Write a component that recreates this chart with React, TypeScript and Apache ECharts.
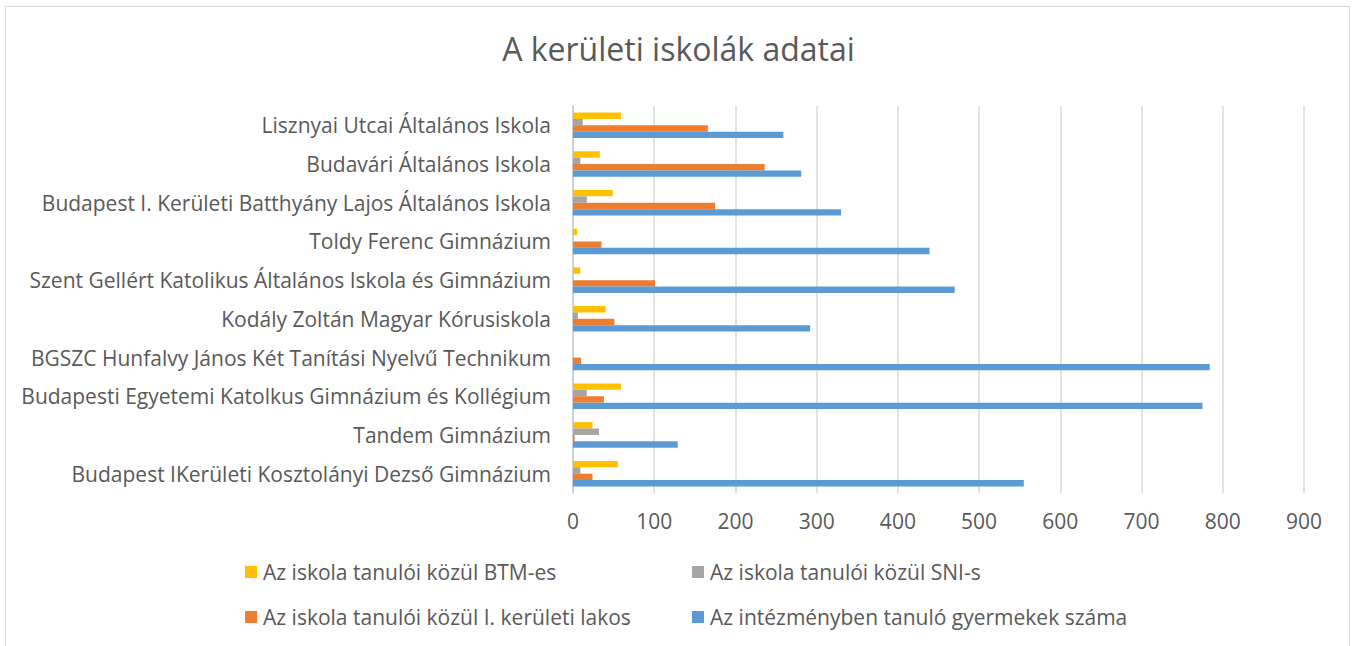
import React, { useEffect, useRef } from "react";
import * as echarts from "echarts";

const categories = [
  "Budapest IKerületi Kosztolányi Dezső Gimnázium",
  "Tandem Gimnázium",
  "Budapesti Egyetemi Katolkus Gimnázium és Kollégium",
  "BGSZC Hunfalvy János Két Tanítási Nyelvű Technikum",
  "Kodály Zoltán Magyar Kórusiskola",
  "Szent Gellért Katolikus Általános Iskola és Gimnázium",
  "Toldy Ferenc Gimnázium",
  "Budapest I. Kerületi Batthyány Lajos Általános Iskola",
  "Budavári Általános Iskola",
  "Lisznyai Utcai Általános Iskola",
];

const seriesNames = [
  "Az iskola tanulói közül BTM-es",
  "Az iskola tanulói közül SNI-s",
  "Az iskola tanulói közül I. kerületi lakos",
  "Az intézményben tanuló gyermekek száma",
];

const btmValues = [55, 24, 59, 0, 40, 9, 5, 49, 33, 59];
const sniValues = [9, 32, 17, 0, 6, 0, 0, 17, 9, 12];
const lakosValues = [24, 2, 38, 10, 51, 101, 35, 175, 236, 166];
const totalValues = [555, 129, 775, 784, 292, 470, 439, 330, 281, 259];

const xTicks = { min: 0, max: 900, interval: 100 };

const colors = ["#FFC000", "#A5A5A5", "#ED7D31", "#5B9BD5"];
const FONT = "Open Sans";
const TEXT = "#595959";

export default function App() {
  const ref = useRef<HTMLDivElement>(null);
  useEffect(() => {
    if (!ref.current) return;
    const chart = echarts.init(ref.current, null, { renderer: "svg" });
    const values = [btmValues, sniValues, lakosValues, totalValues];
    const legendPos = [
      { left: 245, top: 560 },
      { left: 692, top: 560 },
      { left: 245, top: 605 },
      { left: 692, top: 605 },
    ];
    chart.setOption({
      animation: false,
      backgroundColor: "#ffffff",
      textStyle: { fontFamily: FONT },
      title: {
        text: "A kerületi iskolák adatai",
        left: "center",
        top: 27,
        textStyle: { fontFamily: FONT, fontSize: 32, fontWeight: "normal", color: TEXT },
      },
      graphic: [
        {
          type: "rect",
          shape: { x: 5.5, y: 6.5, width: 1344, height: 700 },
          style: { fill: "none", stroke: "#d9d9d9", lineWidth: 1 },
          silent: true,
        },
      ],
      legend: legendPos.map((p, i) => ({
        data: [seriesNames[i]],
        left: p.left,
        top: p.top,
        padding: 0,
        icon: "rect",
        itemWidth: 12,
        itemHeight: 12,
        textStyle: { fontFamily: FONT, fontSize: 21, color: TEXT, lineHeight: 24, padding: [0, 0, 0, 1] },
        selectedMode: false,
      })),
      grid: { left: 573, right: 53, top: 106, bottom: 153, containLabel: false },
      xAxis: {
        type: "value",
        min: xTicks.min,
        max: xTicks.max,
        interval: xTicks.interval,
        axisLine: { show: false },
        axisTick: { show: false },
        splitLine: { show: true, lineStyle: { color: "#d9d9d9", width: 1.5 } },
        axisLabel: { fontFamily: FONT, fontSize: 21, color: TEXT, margin: 17 },
      },
      yAxis: {
        type: "category",
        data: categories,
        axisLine: { show: true, lineStyle: { color: "#c4ccd6", width: 1.5 } },
        axisTick: { show: false },
        axisLabel: { fontFamily: FONT, fontSize: 21, color: TEXT, margin: 22, verticalAlign: "middle", padding: [0, 0, 4, 0] },
      },
      series: seriesNames.map((name, i) => ({
        name,
        type: "bar",
        data: values[i],
        itemStyle: { color: colors[i] },
        barGap: "0%",
        barCategoryGap: "34%",
      })),
    });
    return () => chart.dispose();
  }, []);
  return (
    <div
      ref={ref}
      style={{ position: "fixed", left: 0, top: 0, width: 1357, height: 646 }}
    />
  );
}
